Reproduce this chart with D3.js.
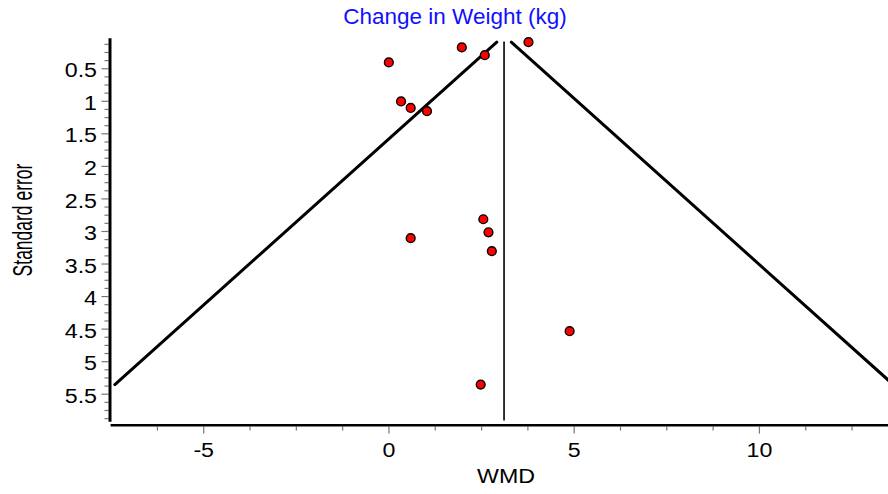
<!DOCTYPE html>
<html><head><meta charset="utf-8">
<script src="https://cdn.jsdelivr.net/npm/d3@7"></script>
<style>
html,body{margin:0;padding:0;background:#fff;}
svg{display:block;font-family:"Liberation Sans",Arial,sans-serif;}
</style></head>
<body>
<svg id="chart" width="888" height="494"></svg>
<script>
// ---- data ----
const studyWMD = [0.01, 1.98, 2.60, 3.78, 0.34, 0.60, 1.04, 0.60, 2.56, 2.70, 2.79, 4.89, 2.49];
const studySE  = [0.41, 0.18, 0.30, 0.10, 1.01, 1.11, 1.16, 3.11, 2.82, 3.02, 3.31, 4.54, 5.36];
const pooledWMD = 3.12;
const xMajorTicks = [-5, 0, 5, 10];
const xMinorTicks = [-6.25, -3.75, -2.5, -1.25, 1.25, 2.5, 3.75, 6.25, 7.5, 8.75, 11.25, 12.5];
const yMajorTicks = [0.5, 1, 1.5, 2, 2.5, 3, 3.5, 4, 4.5, 5, 5.5];
const yMinorTicks = d3.range(0.125, 5.95, 0.125).filter(v => Math.abs(v*2 - Math.round(v*2)) > 1e-6);
const titleText = "Change in Weight (kg)";
const xLabel = "WMD";
const yLabel = "Standard error";

// ---- layout ----
const svg = d3.select("#chart");
const SX = 1.19;       // horizontal text stretch seen in the reference
const FS = 19.5;

const x = d3.scaleLinear().domain([-7.5, 13.5]).range([110.6, 888.6]);
const y = d3.scaleLinear().domain([0.04, 5.93]).range([38.3, 421.7]);
const axisX = 110;     // y-axis line position
const axisY = 425.3;   // x-axis line position

// title
svg.append("text").attr("x", 455).attr("y", 24).attr("text-anchor", "middle")
  .attr("font-size", 22.5).attr("fill", "#1010ff").text(titleText);

// funnel lines
const seMin = d3.min(studySE), seMax = d3.max(studySE);
const line = d3.line().x(d => x(d[0])).y(d => y(d[1]));
[-1, 1].forEach(s => {
  svg.append("path")
    .attr("d", line([[pooledWMD + s*1.96*seMin, seMin], [pooledWMD + s*1.96*seMax, seMax]]))
    .attr("stroke", "#000").attr("stroke-width", 3).attr("fill", "none")
    .attr("stroke-linecap", "round");
});

// pooled estimate vertical line
svg.append("line")
  .attr("x1", x(pooledWMD)).attr("x2", x(pooledWMD))
  .attr("y1", y(0.09)).attr("y2", y(5.91))
  .attr("stroke", "#000").attr("stroke-width", 1.6);

// y axis
const gy = svg.append("g").attr("transform", `translate(${axisX - 1.5},0)`);
gy.append("g").call(d3.axisLeft(y).tickValues(yMinorTicks).tickSize(4).tickFormat(""));
gy.append("g").call(d3.axisLeft(y).tickValues(yMajorTicks).tickSize(7).tickPadding(5).tickFormat(d => d));
gy.selectAll(".domain").remove();
gy.selectAll(".tick line").attr("stroke", "#777").attr("stroke-width", 1.2);
gy.selectAll(".tick text")
  .attr("font-size", FS).attr("font-family", "Liberation Sans, Arial, sans-serif").attr("fill", "#000")
  .attr("x", 0).attr("dy", null).attr("y", 0)
  .attr("transform", `translate(-11.5,8.6) scale(${SX},1)`);
svg.append("line").attr("x1", axisX).attr("x2", axisX).attr("y1", y.range()[0]).attr("y2", y.range()[1])
  .attr("stroke", "#000").attr("stroke-width", 3);

// x axis
const gx = svg.append("g").attr("transform", `translate(0,${axisY + 1.3})`);
gx.append("g").call(d3.axisBottom(x).tickValues(xMinorTicks).tickSize(4).tickFormat(""));
gx.append("g").call(d3.axisBottom(x).tickValues(xMajorTicks).tickSize(7).tickFormat(d => d));
gx.selectAll(".domain").remove();
gx.selectAll(".tick line").attr("stroke", "#777").attr("stroke-width", 1.2);
gx.selectAll(".tick text")
  .attr("font-size", FS).attr("font-family", "Liberation Sans, Arial, sans-serif").attr("fill", "#000")
  .attr("x", 0).attr("dy", null).attr("y", 0)
  .attr("transform", `translate(0,30.6) scale(${SX},1)`);
svg.append("line").attr("x1", x.range()[0]).attr("x2", x.range()[1]).attr("y1", axisY).attr("y2", axisY)
  .attr("stroke", "#000").attr("stroke-width", 2.6);

// axis titles
svg.append("text").attr("text-anchor", "middle").attr("font-size", FS)
  .attr("transform", `translate(506,483) scale(${SX},1)`).text(xLabel);
svg.append("text").attr("text-anchor", "middle").attr("font-size", 17.5)
  .attr("transform", `translate(31.5,220) scale(1.55,1) rotate(-90)`).text(yLabel);

// study points
svg.append("g").selectAll("circle").data(studyWMD.map((w, i) => [w, studySE[i]]))
  .join("circle")
  .attr("cx", d => x(d[0])).attr("cy", d => y(d[1])).attr("r", 4.4)
  .attr("fill", "#ff0000").attr("stroke", "#000").attr("stroke-width", 1.4);
</script>
</body></html>
